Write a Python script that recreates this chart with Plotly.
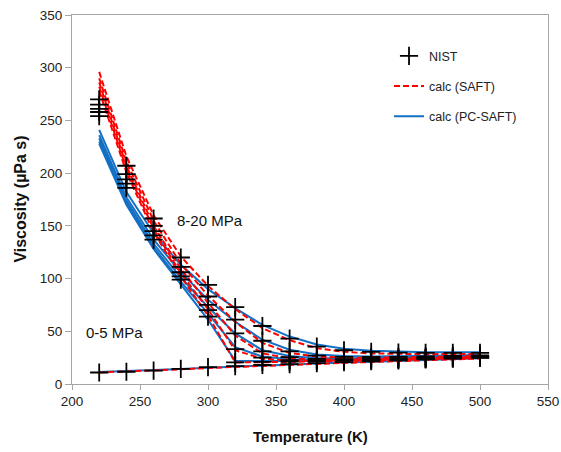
import plotly.graph_objects as go

# ---------------- data ----------------
T = [220, 240, 260, 280, 300, 320, 340, 360, 380, 400, 420, 440, 460, 480, 500]

nist = {
    "20": [270, 207, 157, 120, 94, 73, 55, 43, 35.5, 32, 30.5, 29.8, 29.5, 29.5, 29.5],
    "15": [265, 199, 150, 111, 83, 61, 41, 31, 27, 25.8, 25.6, 25.8, 26.2, 26.7, 27.2],
    "12": [261, 194, 145, 106, 75, 48, 31, 25.5, 23.8, 23.6, 24, 24.4, 24.9, 25.5, 26],
    "10": [258, 190, 141, 102, 70, 33, 25, 22.7, 22.5, 22.8, 23.3, 23.8, 24.4, 25, 25.6],
    "8": [254, 186, 137, 99, 64, 20.5, 21, 21.3, 21.7, 22.2, 22.7, 23.2, 23.8, 24.5, 25.1],
    "gas": [10.9, 11.6, 12.6, 14.3, 16.0, 17.0, 18.0, 18.9, 19.8, 20.7, 21.6, 22.4, 23.3, 24.1, 24.9],
}

pcsaft = {
    "20": [241, 182, 143, 113, 90, 72, 56, 45, 37.5, 33.5, 31.5, 30.5, 30, 30, 30],
    "15": [236, 177, 137, 106, 80, 59, 42, 32.5, 28, 26.5, 26.2, 26.3, 26.6, 27, 27.5],
    "12": [233, 174, 133, 101, 73, 48, 32, 26.5, 24.5, 24.2, 24.4, 24.8, 25.2, 25.8, 26.3],
    "10": [230, 172, 130, 97, 67, 35, 26, 23.5, 23, 23.2, 23.6, 24.1, 24.7, 25.3, 25.9],
    "8": [228, 170, 128, 94, 61, 22, 21.6, 21.8, 22.1, 22.5, 23, 23.5, 24.1, 24.7, 25.3],
    "gas": [11.4, 12.2, 13.1, 14.2, 15.5, 16.6, 17.6, 18.5, 19.4, 20.3, 21.2, 22.0, 22.9, 23.7, 24.5],
}

saft = {
    "20": [296, 216, 160, 121, 93, 71, 53, 41.5, 34, 30.5, 29, 28.5, 28.3, 28.4, 28.6],
    "15": [290, 211, 155, 114, 84, 59, 39, 29.5, 26, 25, 24.9, 25.1, 25.5, 26, 26.5],
    "12": [286, 207, 150, 109, 77, 46, 29, 24.5, 23.2, 23.1, 23.4, 23.8, 24.3, 24.9, 25.5],
    "10": [282, 204, 147, 105, 71, 32, 24, 22.2, 22, 22.3, 22.8, 23.3, 23.9, 24.5, 25.1],
    "8": [278, 201, 144, 102, 65, 20.5, 20.6, 20.9, 21.3, 21.8, 22.3, 22.9, 23.5, 24.1, 24.7],
    "gas": [11.0, 11.8, 12.8, 13.9, 15.2, 16.3, 17.3, 18.2, 19.1, 20.0, 20.9, 21.8, 22.6, 23.4, 24.2],
}

x_ticks = [200, 250, 300, 350, 400, 450, 500, 550]
y_ticks = [0, 50, 100, 150, 200, 250, 300, 350]

# ---------------- figure ----------------
FONT = "Liberation Sans, Arial, sans-serif"
BLUE = "#1470C4"
RED = "#FF0000"

fig = go.Figure()

for i, (k, v) in enumerate(pcsaft.items()):
    fig.add_trace(go.Scatter(
        x=T, y=v, mode="lines", name="calc (PC-SAFT)",
        line=dict(color=BLUE, width=2),
        showlegend=(i == 0), legendgroup="pc", legendrank=3,
    ))

for i, (k, v) in enumerate(saft.items()):
    fig.add_trace(go.Scatter(
        x=T, y=v, mode="lines", name="calc (SAFT)",
        line=dict(color=RED, width=2, dash="6px,3px"),
        showlegend=(i == 0), legendgroup="saft", legendrank=2,
    ))

for i, (k, v) in enumerate(nist.items()):
    fig.add_trace(go.Scatter(
        x=T, y=v, mode="markers", name="NIST",
        marker=dict(symbol="cross-thin", size=13, color="black",
                    line=dict(color="black", width=1.8)),
        showlegend=(i == 0), legendgroup="nist", legendrank=1,
    ))

fig.add_annotation(x=301.8, y=155.5, text="8-20 MPa", showarrow=False,
                   font=dict(family=FONT, size=15, color="#111"))
fig.add_annotation(x=231.3, y=49.3, text="0-5 MPa", showarrow=False,
                   font=dict(family=FONT, size=15, color="#111"))

fig.add_annotation(xref="paper", yref="paper", x=0.5, y=-0.1436,
                   text="<b>Temperature (K)</b>", showarrow=False,
                   xanchor="center", yanchor="middle",
                   font=dict(family=FONT, size=15, color="#111"))
fig.add_annotation(xref="paper", yref="paper", x=-0.109, y=0.5,
                   text="<b>Viscosity (µPa s)</b>", showarrow=False, textangle=-90,
                   xanchor="center", yanchor="middle",
                   font=dict(family=FONT, size=16, color="#111"))

axis_common = dict(
    showgrid=False, zeroline=False, showline=True, mirror=True,
    linecolor="#A6A6A6", linewidth=1,
    ticks="outside", tickcolor="#A6A6A6", tickwidth=1,
    ticklabeloverflow="allow", automargin=False,
    tickfont=dict(family=FONT, size=13.5, color="#222"),
)

fig.update_layout(
    width=561, height=452,
    margin=dict(l=72, r=13, t=15, b=68),
    paper_bgcolor="white", plot_bgcolor="white",
    xaxis=dict(range=[200, 550], tickvals=x_ticks, ticklen=5, **axis_common),
    yaxis=dict(range=[0, 350], tickvals=y_ticks, ticklen=6, **axis_common),
    legend=dict(x=0.666, y=0.929, xanchor="left", yanchor="top",
                bgcolor="rgba(0,0,0,0)", tracegroupgap=11,
                font=dict(family=FONT, size=12.5, color="#222")),
    showlegend=True,
)

# remove the default 8px page margin so the figure fills the window exactly
fig.write_html("out.html", config={"displayModeBar": False},
               post_script="document.body.style.margin='0';")
